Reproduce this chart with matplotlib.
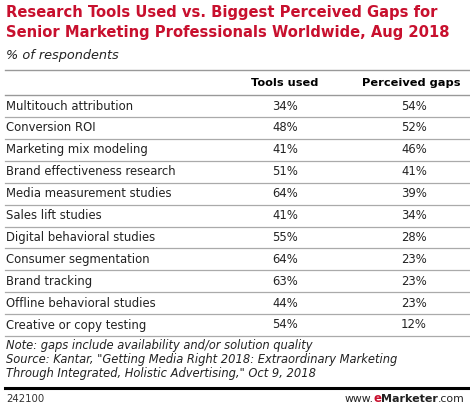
import matplotlib
matplotlib.use("Agg")
import matplotlib.pyplot as plt

categories = ["Multitouch attribution", "Conversion ROI", "Marketing mix modeling",
              "Brand effectiveness research", "Media measurement studies", "Sales lift studies",
              "Digital behavioral studies", "Consumer segmentation", "Brand tracking",
              "Offline behavioral studies", "Creative or copy testing"]
tools_used = [34, 48, 41, 51, 64, 41, 55, 64, 63, 44, 54]
perceived_gaps = [54, 52, 46, 41, 39, 34, 28, 23, 23, 23, 12]
col_headers = ["Tools used", "Perceived gaps"]

W, H = 470, 408
fig = plt.figure(figsize=(W/100, H/100), dpi=100)
ax = fig.add_axes([0, 0, 1, 1])
ax.set_xlim(0, W); ax.set_ylim(H, 0); ax.axis("off")

red = "#c8102e"
ax.text(6, 12, "Research Tools Used vs. Biggest Perceived Gaps for", color=red,
        fontsize=10.6, fontweight="bold", va="center")
ax.text(6, 33, "Senior Marketing Professionals Worldwide, Aug 2018", color=red,
        fontsize=10.6, fontweight="bold", va="center")
ax.text(6, 55, "% of respondents", fontsize=9.3, style="italic", va="center", color="#222")

cx1, cx2 = 285, 411
ax.plot([5, W], [70, 70], color="#999", lw=1)
ax.text(cx1, 83, col_headers[0], fontsize=8.2, fontweight="bold", ha="center", va="center")
ax.text(cx2, 83, col_headers[1], fontsize=8.2, fontweight="bold", ha="center", va="center")
ax.plot([5, W], [95, 95], color="#999", lw=1)

y0, dy = 106, 21.9
for i, (c, t, p) in enumerate(zip(categories, tools_used, perceived_gaps)):
    y = y0 + i*dy
    ax.text(6, y, c, fontsize=8.4, va="center", color="#222")
    ax.text(cx1, y, f"{t}%", fontsize=8.4, ha="center", va="center", color="#222")
    ax.text(cx2+3, y, f"{p}%", fontsize=8.4, ha="center", va="center", color="#222")
    ax.plot([5, W], [y+11, y+11], color="#aaa", lw=0.9)

notes = ["Note: gaps include availability and/or solution quality",
         "Source: Kantar, \"Getting Media Right 2018: Extraordinary Marketing",
         "Through Integrated, Holistic Advertising,\" Oct 9, 2018"]
for j, n in enumerate(notes):
    ax.text(6, 345 + j*14.5, n, fontsize=8.3, style="italic", va="center", color="#222")

ax.plot([5, W], [388, 388], color="black", lw=2.2)
ax.text(6, 399, "242100", fontsize=7.3, va="center", color="#333")

parts = [("www.", "#222", "normal", 7.8), ("e", red, "bold", 8.5),
         ("Marketer", "#222", "bold", 8.0), (".com", "#222", "normal", 7.8)]
fig.canvas.draw()
r = fig.canvas.get_renderer()
objs = []
for s, col, wt, fs in parts:
    objs.append(ax.text(0, 399, s, fontsize=fs, fontweight=wt, color=col, va="center", ha="left"))
widths = [o.get_window_extent(r).width for o in objs]
x = 465 - sum(widths)
for o, w in zip(objs, widths):
    o.set_x(x)
    x += w
fig.savefig("out.png", dpi=100)
